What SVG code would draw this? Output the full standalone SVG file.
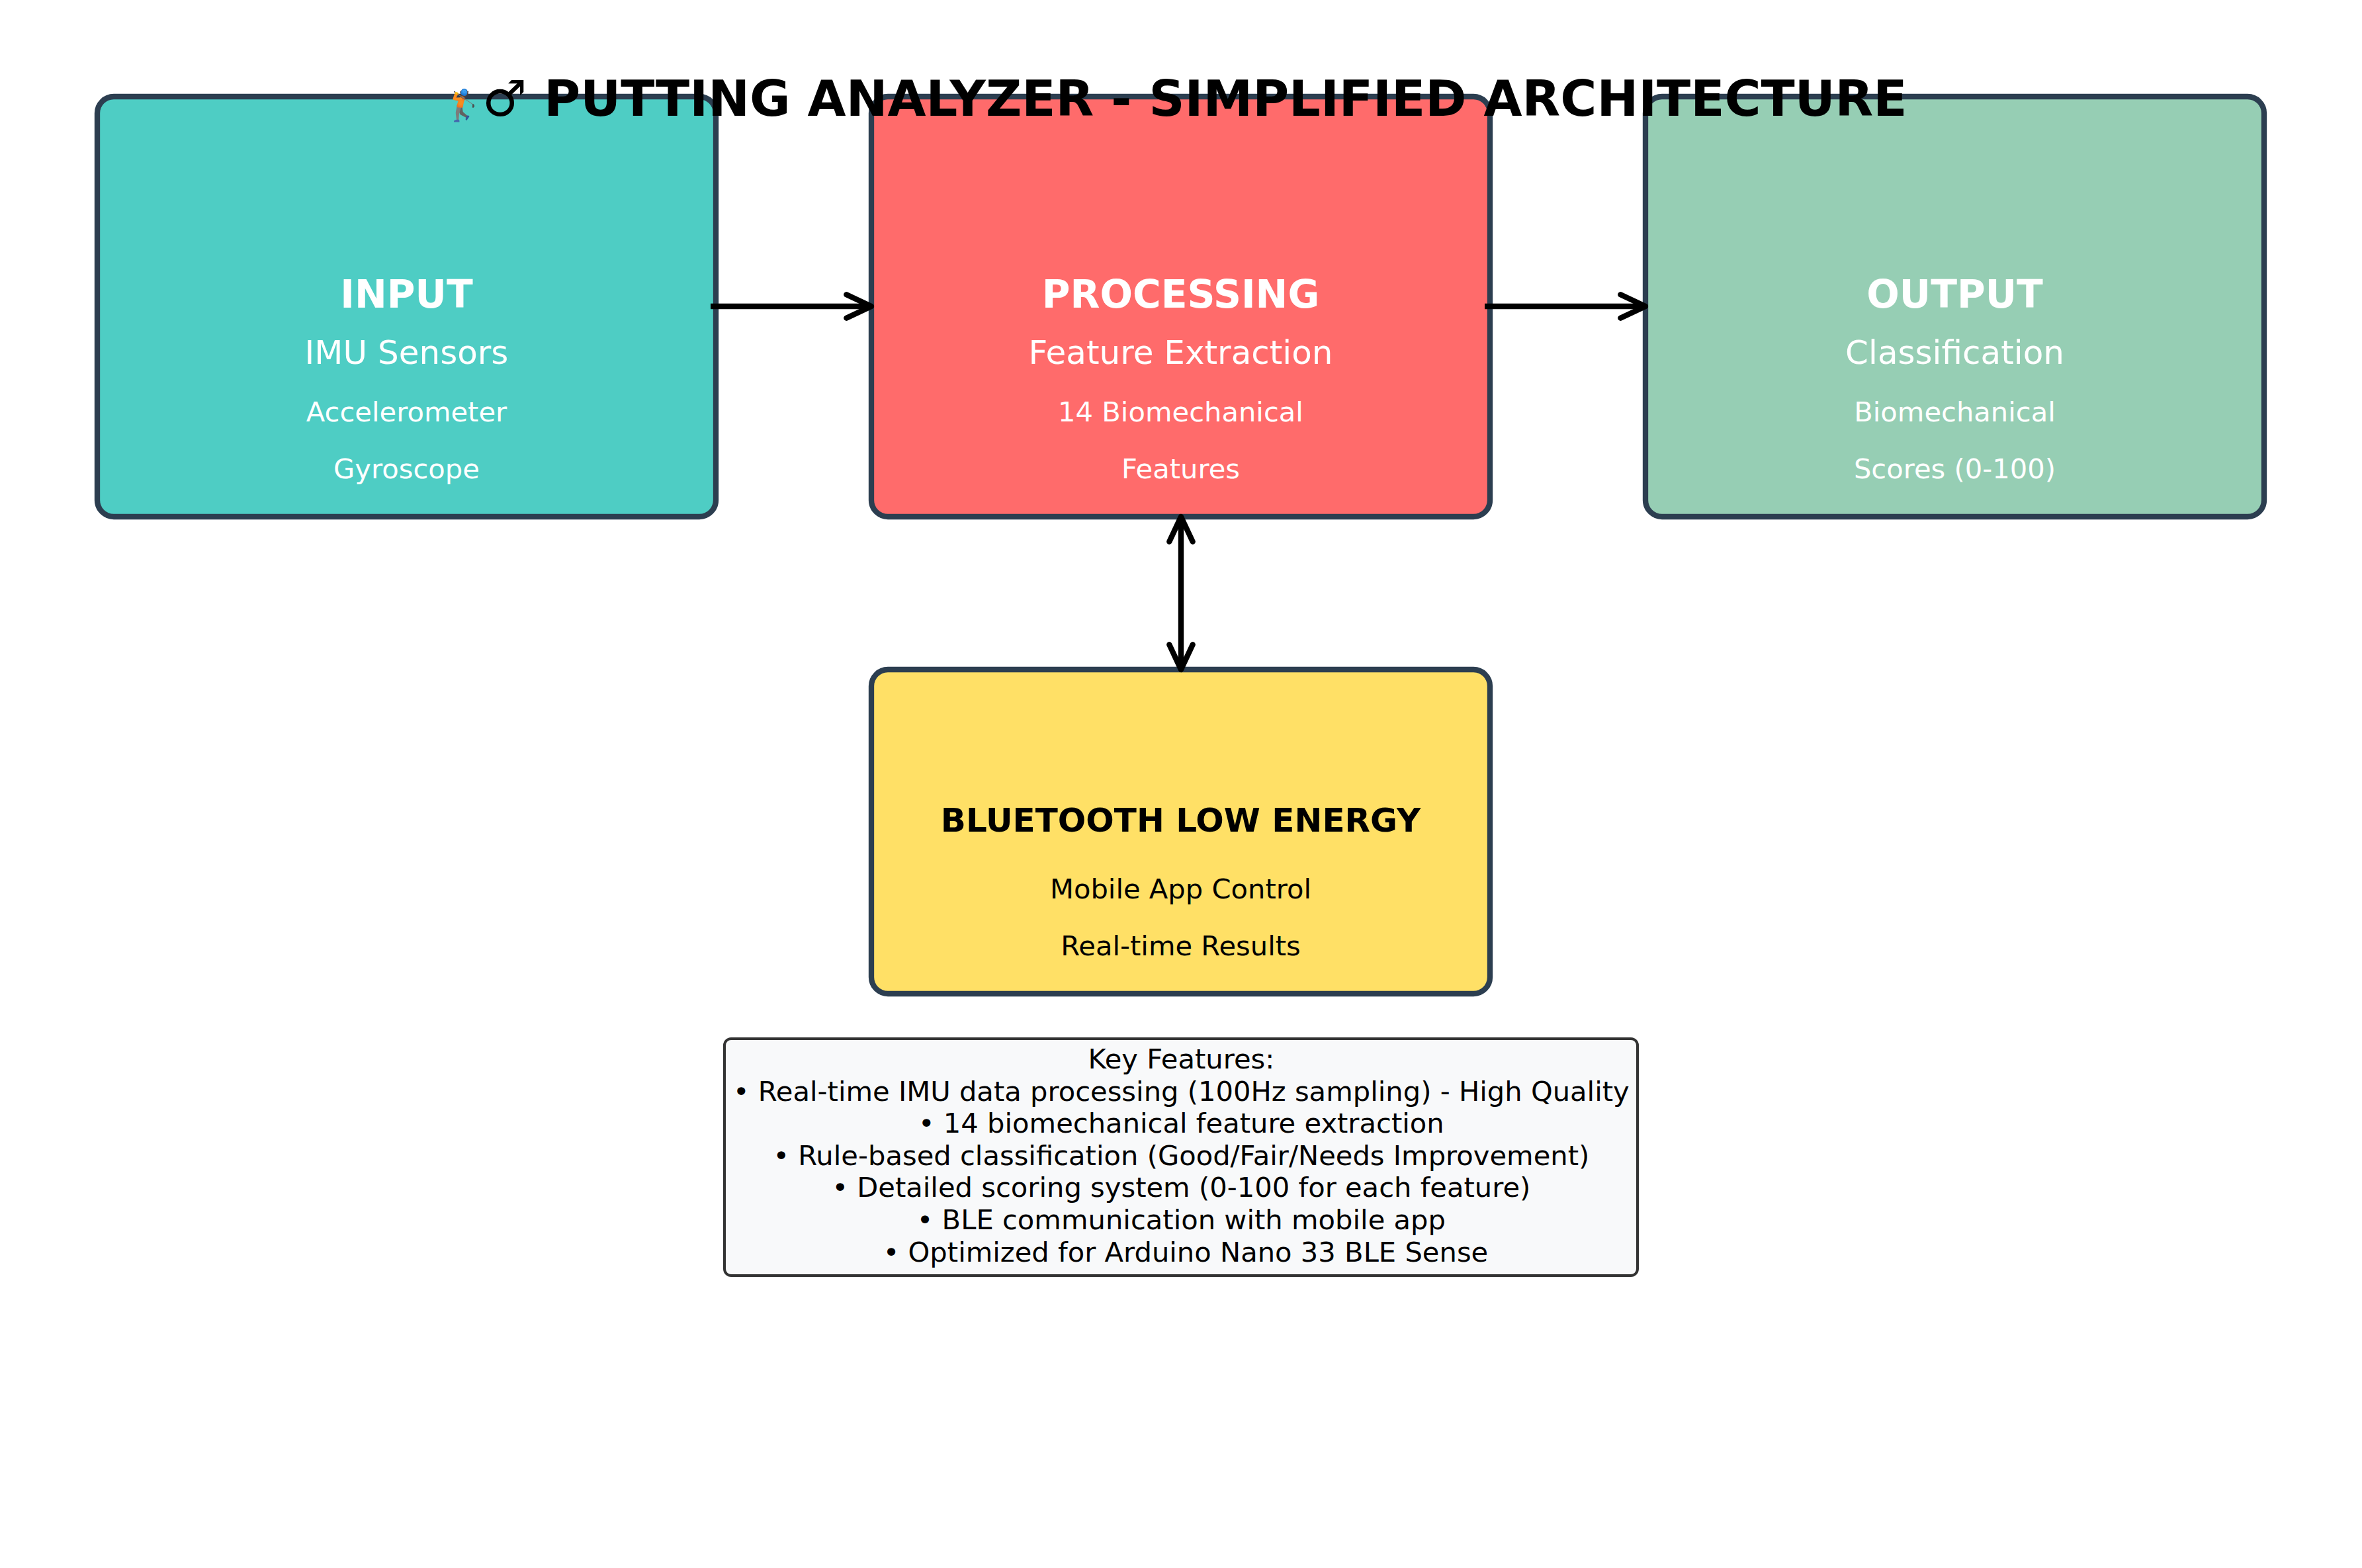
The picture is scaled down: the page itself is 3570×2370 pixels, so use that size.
<svg xmlns="http://www.w3.org/2000/svg" width="3570" height="2370" viewBox="0 0 3570 2370">
<style>
.box{stroke:#2C3E50;stroke-width:8.33}
.t{font-family:"DejaVu Sans","Liberation Sans",sans-serif;text-anchor:middle}
.h{font-size:58.3px;font-weight:bold;fill:#fff}
.s{font-size:50px;fill:#fff}
.d{font-size:41.67px;fill:#fff}
.dk{fill:#000}
.conn{stroke:#000;stroke-width:8.33;fill:none}
</style>
<defs>
<marker id="ah" markerUnits="userSpaceOnUse" markerWidth="80" markerHeight="80" viewBox="-50 -40 80 80" refX="0" refY="0" orient="auto-start-reverse" overflow="visible">
<path d="M-37.7,-17.7 L0,0 L-37.7,17.7" fill="none" stroke="#000" stroke-width="8.33" stroke-linecap="round" stroke-linejoin="round"/>
</marker>
</defs>
<rect width="3570" height="2370" fill="#fff"/>
<g id="input">
<rect class="box" x="147" y="146" width="935" height="635" rx="25" fill="#4ECDC4"/>
<text class="t h" x="614.5" y="465">INPUT</text>
<text class="t s" x="614.5" y="550">IMU Sensors</text>
<text class="t d" x="614.5" y="637">Accelerometer</text>
<text class="t d" x="614.5" y="723">Gyroscope</text>
</g>
<g id="processing">
<rect class="box" x="1317" y="146" width="935" height="635" rx="25" fill="#FF6B6B"/>
<text class="t h" x="1784.5" y="465">PROCESSING</text>
<text class="t s" x="1784.5" y="550">Feature Extraction</text>
<text class="t d" x="1784.5" y="637">14 Biomechanical</text>
<text class="t d" x="1784.5" y="723">Features</text>
</g>
<g id="output">
<rect class="box" x="2487" y="146" width="935" height="635" rx="25" fill="#96CEB4"/>
<text class="t h" x="2954.5" y="465">OUTPUT</text>
<text class="t s" x="2954.5" y="550">Classification</text>
<text class="t d" x="2954.5" y="637">Biomechanical</text>
<text class="t d" x="2954.5" y="723">Scores (0-100)</text>
</g>
<g id="ble">
<rect class="box" x="1317" y="1012" width="935" height="490" rx="25" fill="#FFE066"/>
<text class="t dk" x="1784.5" y="1257" font-size="50" font-weight="bold">BLUETOOTH LOW ENERGY</text>
<text class="t dk" x="1784.5" y="1358" font-size="41.67">Mobile App Control</text>
<text class="t dk" x="1784.5" y="1444" font-size="41.67">Real-time Results</text>
</g>
<g id="connectors">
<path class="conn" d="M1074,463 L1317,463" marker-end="url(#ah)"/>
<path class="conn" d="M2244,463 L2487,463" marker-end="url(#ah)"/>
<path class="conn" d="M1785,781 L1785,1012" marker-start="url(#ah)" marker-end="url(#ah)"/>
</g>
<g id="key-features">
<rect x="1095" y="1570" width="1380" height="358" rx="10" fill="#F8F9FA" stroke="#333" stroke-width="4"/>
<text class="t dk" font-size="41.67">
<tspan x="1792" y="1615">Key Features:</tspan>
<tspan x="1792" y="1663.6">• Real-time IMU data processing (100Hz sampling) - High Quality</tspan>
<tspan x="1792" y="1712.2">• 14 biomechanical feature extraction</tspan>
<tspan x="1792" y="1760.8">• Rule-based classification (Good/Fair/Needs Improvement)</tspan>
<tspan x="1792" y="1809.4">• Detailed scoring system (0-100 for each feature)</tspan>
<tspan x="1792" y="1858">• BLE communication with mobile app</tspan>
<tspan x="1792" y="1906.6">• Optimized for Arduino Nano 33 BLE Sense</tspan>
</text>
</g>
<g id="title">
<text font-family="DejaVu Sans, Liberation Sans, sans-serif" y="175" font-size="75" font-weight="bold" fill="#000"><tspan x="672" font-size="46">🏌</tspan><tspan x="729">♂ PUTTING ANALYZER - SIMPLIFIED ARCHITECTURE</tspan></text>
</g>
</svg>
